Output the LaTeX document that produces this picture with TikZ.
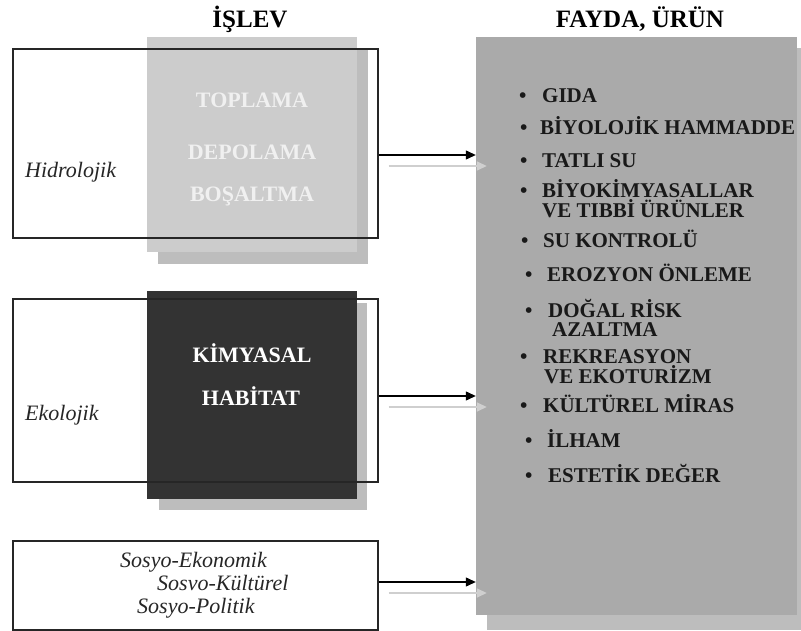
\documentclass[tikz,border=0pt]{standalone}
\usepackage{fontspec}
\setmainfont{Liberation Serif}
\usetikzlibrary{arrows.meta,calc}

\definecolor{acikgri}{HTML}{CCCCCC}
\definecolor{golgegri}{HTML}{BDBDBD}
\definecolor{kutugri}{HTML}{AAAAAA}
\definecolor{koyugri}{HTML}{333333}
\definecolor{okgri}{HTML}{CFCFCF}

\begin{document}
\begin{tikzpicture}[x=1pt,y=-1pt,
    cerceve/.style={draw=black!85,line width=1.2pt,minimum width=365pt,inner sep=0pt},
    kare/.style={minimum width=210pt,inner sep=0pt},
    ok/.style={line width=1.2pt,-{Triangle[length=10pt,width=9pt]}},
    gok/.style={okgri,line width=1.5pt,-{Triangle[length=10pt,width=9pt]}},
    baslik/.style={font=\fontsize{25}{28}\selectfont\bfseries,anchor=base},
    ici/.style={font=\fontsize{22}{24}\selectfont\bfseries,anchor=base},
    yan/.style={font=\fontsize{22}{24}\selectfont\itshape,anchor=base west,text=black!85,inner sep=0pt},
    liste/.style={font=\fontsize{21}{24}\selectfont\bfseries,anchor=base west,text=black!90,inner sep=0pt}]
  \useasboundingbox (0,0) rectangle (801,631);

  % sag kutu ve golgesi
  \node[fill=kutugri,minimum width=321pt,minimum height=578pt,inner sep=0pt] (fayda) at (636.5,326) {};
  \fill[golgegri] ($(fayda.south west)+(11,0)$) rectangle ($(fayda.south east)+(11,15)$);
  \fill[golgegri] ($(fayda.north east)+(0,11)$) rectangle ($(fayda.south east)+(11,0)$);

  % kareler
  \node[kare,fill=acikgri,minimum height=215pt] (hkare) at (252,144.5) {};
  \fill[golgegri] ($(hkare.south west)+(11,0)$) rectangle ($(hkare.south east)+(11,12)$);
  \fill[golgegri] ($(hkare.north east)+(0,12)$) rectangle ($(hkare.south east)+(11,0)$);

  \node[kare,fill=koyugri,minimum height=208pt] (ekare) at (252,395) {};
  \fill[golgegri] ($(ekare.south west)+(12,0)$) rectangle ($(ekare.south east)+(10,11)$);
  \fill[golgegri] ($(ekare.north east)+(0,12)$) rectangle ($(ekare.south east)+(10,0)$);

  % cerceveler
  \node[cerceve,minimum height=189pt] (hidro) at (195.5,143.5) {};
  \node[cerceve,minimum height=183pt] (eko) at (195.5,390.5) {};
  \node[cerceve,minimum height=89pt] (sosyo) at (195.5,585.5) {};

  % oklar
  \draw[ok] ($(hidro.east)+(0,11.5)$) coordinate (h1) -- (h1 -| fayda.west);
  \draw[ok] ($(eko.east)+(0,5.5)$) coordinate (e1) -- (e1 -| fayda.west);
  \draw[ok] ($(sosyo.east)+(0,-3.5)$) coordinate (s1) -- (s1 -| fayda.west);
  \draw[gok] ($(h1)+(10,11)$) -- ($(h1 -| fayda.west)+(11,11)$);
  \draw[gok] ($(e1)+(10,11)$) -- ($(e1 -| fayda.west)+(11,11)$);
  \draw[gok] ($(s1)+(10,11)$) -- ($(s1 -| fayda.west)+(11,11)$);

  % basliklar
  \node[baslik] (islev) at (250,28) {İŞLEV};
  \node[baslik] (urun) at (640,28) {FAYDA, ÜRÜN};

  % kare yazilari
  \node[ici,text=white!94!black] (t1) at (252,108) {TOPLAMA};
  \node[ici,text=white!94!black] (t2) at (252,160) {DEPOLAMA};
  \node[ici,text=white!94!black] (t3) at (252,202) {BOŞALTMA};
  \node[ici,text=white] (t4) at (252,362) {KİMYASAL};
  \node[ici,text=white] (t5) at (251,405) {HABİTAT};

  % sol yazilar
  \node[yan] (hid) at (25,178) {Hidrolojik};
  \node[yan] (ekol) at (25,420) {Ekolojik};
  \node[yan] (se) at (120,567) {Sosyo-Ekonomik};
  \node[yan] (sk) at (157,590) {Sosvo-Kültürel};
  \node[yan] (sp) at (137,613) {Sosyo-Politik};

  % liste
  \foreach \bx/\tx/\by/\metin [count=\i] in {
      519/542/103/GIDA,
      520/540/135/BİYOLOJİK HAMMADDE,
      520/542/168/TATLI SU,
      520/542/198/BİYOKİMYASALLAR,
      521/543/248/SU KONTROLÜ,
      525/547/282/EROZYON ÖNLEME,
      525/548/317/DOĞAL RİSK,
      520/543/363/REKREASYON,
      520/543/412/KÜLTÜREL MİRAS,
      525/547/447/İLHAM,
      525/548/482/ESTETİK DEĞER}{
    \node[liste] (mb\i) at (\bx,\by) {•};
    \node[liste] (m\i) at (\tx,\by) {\metin};
  }
  \node[liste] (m4b) at ($(m4.base west)+(0,20)$) {VE TIBBİ ÜRÜNLER};
  \node[liste] (m7b) at ($(m7.base west)+(4,20)$) {AZALTMA};
  \node[liste] (m8b) at ($(m8.base west)+(1,20)$) {VE EKOTURİZM};
\end{tikzpicture}
\end{document}
